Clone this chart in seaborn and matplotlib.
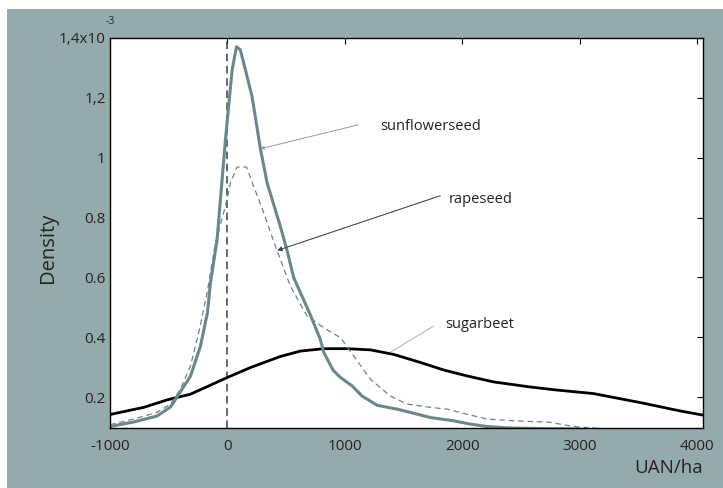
import matplotlib
matplotlib.use("Agg")
import matplotlib.pyplot as plt
import seaborn as sns
import pandas as pd
from matplotlib.patches import Rectangle

# ---- data (density in units of 1e-3) ----
x_sun = [-1000, -800, -600, -485, -425, -315, -230, -170, -145, -88, -17, 0, 40, 77,
         110, 139, 210, 281, 338, 451, 508, 564, 706, 791, 820, 900, 962, 1061, 1146,
         1274, 1444, 1600, 1728, 1926, 2068, 2210, 2400, 2700, 3000]
y_sun = [0.102, 0.117, 0.137, 0.167, 0.203, 0.27, 0.37, 0.483, 0.58, 0.727, 1.06, 1.13, 1.293, 1.371,
         1.36, 1.316, 1.204, 1.03, 0.916, 0.77, 0.69, 0.60, 0.475, 0.393, 0.35, 0.29, 0.266, 0.238, 0.204,
         0.173, 0.16, 0.145, 0.132, 0.121, 0.11, 0.102, 0.097, 0.095, 0.094]

x_rape = [-1000, -800, -600, -485, -400, -315, -244, -173, -102, -17, 26, 82, 162, 224, 309,
          409, 536, 678, 721, 820, 962, 1075, 1217, 1387, 1529, 1728, 1870, 2040, 2210, 2437,
          2749, 2919, 3004, 3200]
y_rape = [0.108, 0.127, 0.149, 0.177, 0.227, 0.304, 0.416, 0.549, 0.716, 0.838, 0.916, 0.969, 0.969, 0.904, 0.816,
          0.704, 0.571, 0.471, 0.46, 0.432, 0.399, 0.338, 0.26, 0.204, 0.177, 0.166, 0.16, 0.143, 0.127, 0.121,
          0.116, 0.104, 0.10, 0.095]

x_sug = [-1000, -712, -513, -315, -145, 0, 196, 451, 621, 820, 1019, 1217, 1415, 1643, 1840,
         2040, 2266, 2579, 2800, 3118, 3515, 3855, 4050]
y_sug = [0.142, 0.166, 0.191, 0.21, 0.24, 0.266, 0.299, 0.336, 0.354, 0.362, 0.362, 0.358, 0.343, 0.316, 0.291,
         0.271, 0.251, 0.234, 0.224, 0.212, 0.182, 0.154, 0.14]

x_ticks = [-1000, 0, 1000, 2000, 3000, 4000]
x_tick_labels = ["-1000", "0", "1000", "2000", "3000", "4000"]
y_ticks = [0.2, 0.4, 0.6, 0.8, 1.0, 1.2, 1.4]
y_tick_labels = ["0.2", "0.4", "0.6", "0.8", "1", "1,2", "1,4x10"]

labels = ["sunflowerseed", "rapeseed", "sugarbeet"]

# ---- style ----
sns.set_theme(style="white")
plt.rcParams["font.family"] = ["Open Sans", "DejaVu Sans"]

W, H = 723, 488
fig = plt.figure(figsize=(W / 100, H / 100), dpi=100, facecolor="white")
bg = "#95abab"
fig.patches.append(Rectangle((7 / W, 0), 1 - 7 / W, 1 - 9 / H, transform=fig.transFigure,
                             facecolor=bg, edgecolor="none", zorder=-10))

L, R, T, B = 110, 703, 38, 428
ax = fig.add_axes([L / W, 1 - B / H, (R - L) / W, (B - T) / H])
ax.set_facecolor("white")

df_sun = pd.DataFrame({"x": x_sun, "y": y_sun})
df_rape = pd.DataFrame({"x": x_rape, "y": y_rape})
df_sug = pd.DataFrame({"x": x_sug, "y": y_sug})

sns.lineplot(data=df_sug, x="x", y="y", ax=ax, color="black", lw=2.0, sort=False, estimator=None)
sns.lineplot(data=df_rape, x="x", y="y", ax=ax, color="#6f8389", lw=0.9, sort=False, estimator=None,
             dashes=False)
ax.lines[-1].set_dashes([4.5, 3])
sns.lineplot(data=df_sun, x="x", y="y", ax=ax, color="#6c878c", lw=2.2, sort=False, estimator=None)
for ln in ax.lines:
    ln.set_solid_joinstyle("round")

ax.axvline(0, color="#34444a", lw=1.1, dashes=(5, 3), zorder=1)

ax.set_xlim(-1000, 4050)
ax.set_ylim(0.097, 1.4)
ax.set_xticks(x_ticks)
ax.set_xticklabels(x_tick_labels)
ax.set_yticks(y_ticks)
ax.set_yticklabels(y_tick_labels)
ax.tick_params(direction="in", length=4, width=0.8, colors="black", labelsize=11,
               top=True, right=True, labelcolor="#222222")
ax.tick_params(axis="x", pad=8)
ax.tick_params(axis="y", pad=3)
for s in ax.spines.values():
    s.set_color("black")
    s.set_linewidth(1.0)
    s.set_visible(True)

ax.set_xlabel("")
ax.set_ylabel("Density", fontsize=14.5, color="#222222")
ax.yaxis.set_label_coords(-0.0877, 0.4615)
fig.text(703 / W, 1 - 468 / H, "UAN/ha", fontsize=13.5, ha="right", va="center", color="#222222")
fig.text(110 / W, 1 - 21 / H, "-3", fontsize=7.5, ha="center", va="center", color="#222222")

# ---- annotations ----
ax.annotate("", xy=(281, 1.03), xytext=(1115, 1.11),
            arrowprops=dict(arrowstyle="-|>", mutation_scale=5, color="#9a9a9a", lw=0.7,
                            shrinkA=0, shrinkB=0))
ax.text(1302, 1.103, labels[0], fontsize=10.5, ha="left", va="center", color="#222222")

ax.annotate("", xy=(423, 0.69), xytext=(1813, 0.873),
            arrowprops=dict(arrowstyle="-|>", mutation_scale=7, color="#4a4a4a", lw=0.8,
                            shrinkA=0, shrinkB=0))
ax.text(1889, 0.86, labels[1], fontsize=10.5, ha="left", va="center", color="#222222")

ax.annotate("", xy=(1387, 0.35), xytext=(1753, 0.437),
            arrowprops=dict(arrowstyle="-", color="#b0b0b0", lw=0.7, shrinkA=0, shrinkB=0))
ax.text(1855, 0.443, labels[2], fontsize=10.5, ha="left", va="center", color="#222222")

fig.savefig("out.png", dpi=100, facecolor="white")
